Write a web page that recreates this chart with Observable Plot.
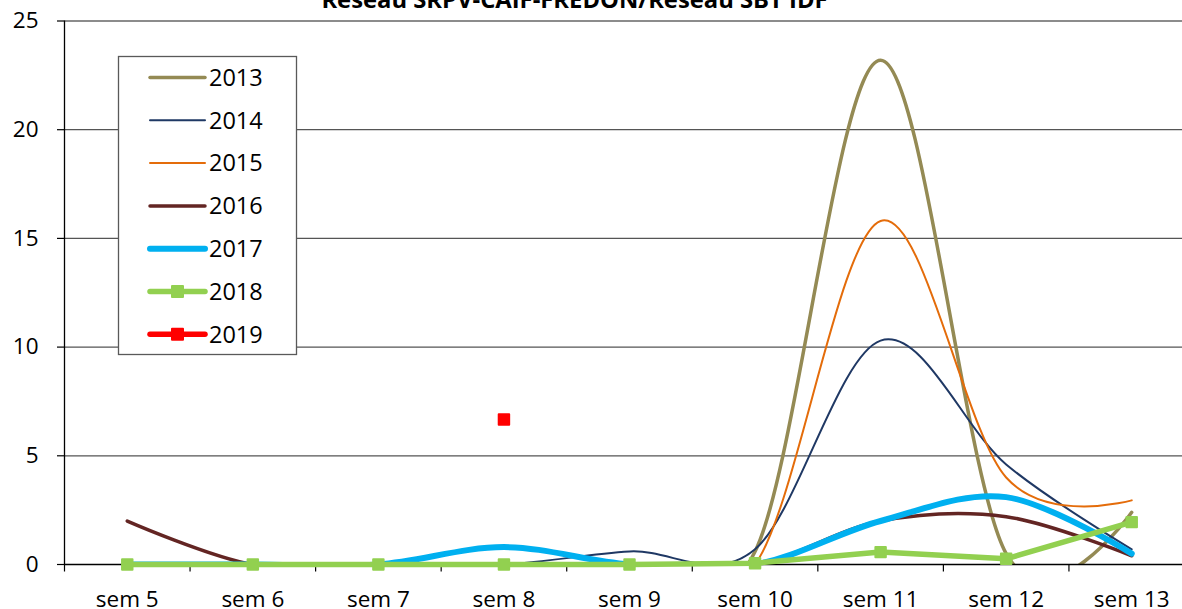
<!DOCTYPE html>
<html><head><meta charset="utf-8">
<script src="https://cdn.jsdelivr.net/npm/d3@7"></script>
<script src="https://cdn.jsdelivr.net/npm/@observablehq/plot@0.6"></script>
<style>html,body{margin:0;padding:0;background:#fff;overflow:hidden}</style>
</head><body><div id="chart"></div>
<script>
// ---- data ----
const weeks = [5, 6, 7, 8, 9, 10, 11, 12, 13];
const weekLabels = ["sem 5", "sem 6", "sem 7", "sem 8", "sem 9", "sem 10", "sem 11", "sem 12", "sem 13"];
const yTicks = [0, 5, 10, 15, 20, 25];
const years = ["2013", "2014", "2015", "2016", "2017", "2018", "2019"];
const v2013 = [0, 0, 0, 0, 0, 0.6, 23.2, 0.5, 2.4];
const v2014 = [0, 0, 0, 0, 0.6, 0.7, 10.3, 4.6, 0.7];
const v2015 = [0, 0, 0, 0, 0, 0, 15.8, 4.0, 2.95];
const v2016 = [2.0, 0, 0, 0, 0, 0, 2.0, 2.2, 0.4];
const v2017 = [0, 0, 0, 0.8, 0, 0, 2.0, 3.1, 0.5];
const v2018 = [0, 0, 0, 0, 0, 0.06, 0.57, 0.26, 1.95];
const v2019 = [null, null, null, 6.67, null, null, null, null, null];
const title = "Réseau SRPV-CAIF-FREDON/Réseau SBT IDF";

const colors = {"2013": "#948A54", "2014": "#1F3864", "2015": "#E46C0A", "2016": "#632523",
                "2017": "#00B0F0", "2018": "#92D050", "2019": "#FF0000"};
const widths = {"2013": 3.5, "2014": 2, "2015": 2, "2016": 3.5, "2017": 6, "2018": 5.5, "2019": 5.5};

const series = {"2013": v2013, "2014": v2014, "2015": v2015, "2016": v2016, "2017": v2017, "2018": v2018, "2019": v2019};
const rows = y => weeks.map((w, i) => ({week: w, value: series[y][i], year: y})).filter(d => d.value != null);

const smoothMarks = ["2013", "2014", "2015", "2016", "2017"].map(y =>
  Plot.line(rows(y), {x: "week", y: "value", curve: "cardinal", clip: true,
    stroke: colors[y], strokeWidth: widths[y], strokeLinecap: "round", strokeLinejoin: "round"}));

const font = "'Open Sans', 'DejaVu Sans', sans-serif";

const chart = Plot.plot({
  width: 1182, height: 609,
  marginLeft: 64, marginRight: 0, marginTop: 20.5, marginBottom: 45,
  style: {fontFamily: font, fontSize: "22.5px", color: "black", background: "white", overflow: "hidden"},
  x: {domain: [4.5, 13.5], range: [64, 1194], label: null},
  y: {domain: [0, 25], range: [564, 20.5], label: null},
  marks: [
    Plot.gridY([5, 10, 15, 20], {stroke: "#555", strokeOpacity: 1, strokeWidth: 1.2}),
    Plot.gridY([25], {stroke: "#8c8c8c", strokeOpacity: 1, strokeWidth: 2}),
    Plot.axisY(yTicks, {tickSize: 7, tickPadding: 19, strokeWidth: 1.2, label: null}),
    Plot.axisX(weeks, {tickSize: 0, tickPadding: 27, label: null, tickFormat: w => weekLabels[weeks.indexOf(w)]}),
    Plot.axisX(d3.range(4.5, 14, 1), {tickSize: 7.5, label: null, tickFormat: () => "", strokeWidth: 1.2}),
    Plot.ruleX([4.5], {y1: 0, y2: 25, stroke: "black", strokeWidth: 1.3}),
    ...smoothMarks,
    Plot.ruleY([0], {stroke: "black", strokeWidth: 1.3}),
    Plot.line(rows("2018"), {x: "week", y: "value", stroke: colors["2018"], strokeWidth: widths["2018"],
      strokeLinecap: "round", strokeLinejoin: "round"}),
    Plot.dot(rows("2018"), {x: "week", y: "value", symbol: "square", r: 5.9, fill: colors["2018"],
      stroke: colors["2018"], strokeWidth: 2, strokeLinejoin: "round"}),
    Plot.dot(rows("2019"), {x: "week", y: "value", symbol: "square", r: 5.9, fill: colors["2019"],
      stroke: colors["2019"], strokeWidth: 2, strokeLinejoin: "round"}),
    Plot.text([title], {frameAnchor: "top", lineAnchor: "bottom", dy: -13, dx: -49,
      fontWeight: "bold", fontSize: 23.8, fill: "black"})
  ]
});

// ---- legend box inside the plot area ----
const svg = d3.select(chart);
const lg = svg.append("g").attr("font-family", font).attr("font-size", 23.5).attr("text-anchor", "start");
lg.append("rect").attr("x", 118.5).attr("y", 56.5).attr("width", 178).attr("height", 298)
  .attr("fill", "white").attr("stroke", "#595959").attr("stroke-width", 1.3);
years.forEach((y, i) => {
  const cy = 77.5 + i * 42.8;
  lg.append("line").attr("x1", 150).attr("x2", 205).attr("y1", cy).attr("y2", cy)
    .attr("stroke", colors[y]).attr("stroke-width", widths[y]).attr("stroke-linecap", "round");
  if (y === "2018" || y === "2019") {
    lg.append("rect").attr("x", 172).attr("y", cy - 5.5).attr("width", 11).attr("height", 11)
      .attr("fill", colors[y]).attr("stroke", colors[y]).attr("stroke-width", 2).attr("stroke-linejoin", "round");
  }
  lg.append("text").attr("x", 209).attr("y", cy).attr("dy", "0.35em").attr("text-anchor", "start")
    .attr("fill", "black").text(y);
});

document.getElementById("chart").appendChild(chart);
</script>
</body></html>
